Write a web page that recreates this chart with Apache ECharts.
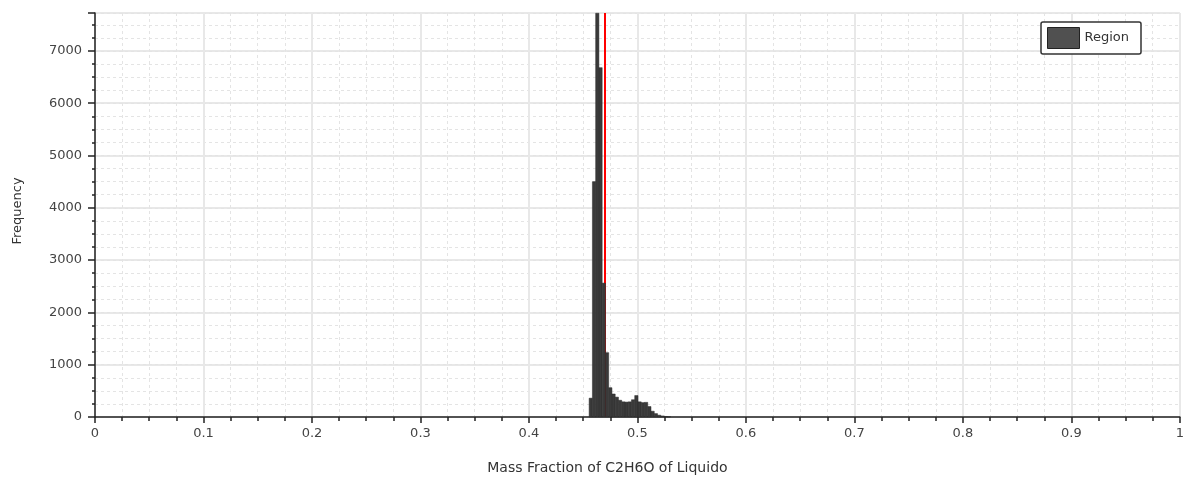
<!DOCTYPE html>
<html>
<head>
<meta charset="utf-8">
<script src="https://cdn.jsdelivr.net/npm/echarts@6/dist/echarts.min.js"></script>
<style>html,body{margin:0;padding:0;background:#fff;}#c{width:1187px;height:482px;}</style>
</head>
<body>
<div id="c"></div>
<script>
// Histogram bin edges start and width (Mass Fraction)
const binStart = 0.4555;
const binWidth = 0.003;
// Frequencies per bin
const frequencies = [360, 4500, 7720, 6680, 2560, 1230, 560, 440, 380, 320, 290, 285, 290, 330, 410, 290, 275, 280, 200, 110, 65, 35, 20, 10, 5];
const meanValue = 0.4665;
const xTicks = [0, 0.1, 0.2, 0.3, 0.4, 0.5, 0.6, 0.7, 0.8, 0.9, 1];
const yTicks = [0, 1000, 2000, 3000, 4000, 5000, 6000, 7000];
const yMax = 7725;
const seriesName = 'Region';

const bins = frequencies.map((f, i) => [binStart + i * binWidth, binStart + (i + 1) * binWidth, f]);

const FONT = 'DejaVu Sans';
const chart = echarts.init(document.getElementById('c'), null, {renderer: 'canvas'});
chart.setOption({
  animation: false,
  backgroundColor: '#ffffff',
  textStyle: {fontFamily: FONT},
  grid: {left: 95, right: 5, top: 13, bottom: 65, containLabel: false},
  legend: {
    data: [{name: seriesName, icon: 'rect', itemStyle: {color: '#505050', borderColor: '#222', borderWidth: 1}}],
    left: 1041, top: 22,
    itemWidth: 32, itemHeight: 21, itemGap: 5,
    padding: [5, 12, 5, 6],
    borderColor: '#333', borderWidth: 1.5, borderRadius: 2,
    backgroundColor: '#fff',
    textStyle: {fontFamily: FONT, fontSize: 13, color: '#333'}
  },
  xAxis: [{
    type: 'value', min: xTicks[0], max: xTicks[xTicks.length - 1], interval: 0.1,
    name: 'Mass Fraction of C2H6O of Liquido', nameLocation: 'middle', nameGap: 44,
    nameTextStyle: {fontFamily: FONT, fontSize: 14, color: '#333', padding: [0, 60, 0, 0]},
    axisLine: {show: true, onZero: false, lineStyle: {color: '#222', width: 1.5}},
    axisTick: {show: true, length: 6, lineStyle: {color: '#222', width: 1.5}},
    minorTick: {show: true, splitNumber: 4, length: 4, lineStyle: {color: '#222', width: 1.5}},
    axisLabel: {fontFamily: FONT, fontSize: 13, color: '#444', margin: 10,
      formatter: v => String(Math.round(v * 10) / 10)},
    splitLine: {show: true, lineStyle: {color: '#e8e8e8', width: 2}},
    minorSplitLine: {show: true, lineStyle: {color: '#e4e4e4', width: 1, type: [3, 3]}}
  }],
  yAxis: [{
    type: 'value', min: 0, max: yMax, interval: 1000,
    name: 'Frequency', nameLocation: 'middle', nameGap: 71,
    nameTextStyle: {fontFamily: FONT, fontSize: 13, color: '#333', padding: [0, 0, 0, 8]},
    axisLine: {show: true, lineStyle: {color: '#222', width: 1.5}},
    axisTick: {show: true, length: 7, lineStyle: {color: '#222', width: 1.5}},
    axisLabel: {fontFamily: FONT, fontSize: 13, color: '#444', margin: 13,
      formatter: v => (yTicks.indexOf(Math.round(v)) >= 0 && Math.abs(v - Math.round(v)) < 1e-6) ? String(Math.round(v)) : ''},
    splitLine: {show: true, lineStyle: {color: '#e8e8e8', width: 2}}
  }, {
    type: 'value', min: 0, max: yMax, interval: 250, position: 'left',
    axisLine: {show: false},
    axisTick: {show: true, length: 3, lineStyle: {color: '#222', width: 1.5}},
    axisLabel: {show: false},
    splitLine: {show: true, lineStyle: {color: '#e4e4e4', width: 1, type: [3, 3]}}
  }],
  series: [{
    name: seriesName,
    type: 'custom',
    xAxisIndex: 0, yAxisIndex: 0,
    z: 5,
    itemStyle: {color: '#3a3a3a'},
    encode: {x: [0, 1], y: 2},
    data: bins,
    renderItem: function (params, api) {
      const p0 = api.coord([api.value(0), 0]);
      const p1 = api.coord([api.value(1), api.value(2)]);
      return {
        type: 'rect',
        shape: {x: p0[0], y: p1[1], width: p1[0] - p0[0], height: p0[1] - p1[1]},
        style: {fill: '#3a3a3a', stroke: '#2a2a2a', lineWidth: 0.5}
      };
    },
    markLine: {
      silent: true, symbol: 'none', animation: false,
      label: {show: false},
      lineStyle: {color: '#ff0000', width: 2, type: 'solid'},
      data: [{xAxis: meanValue}]
    }
  }]
});
</script>
</body>
</html>
